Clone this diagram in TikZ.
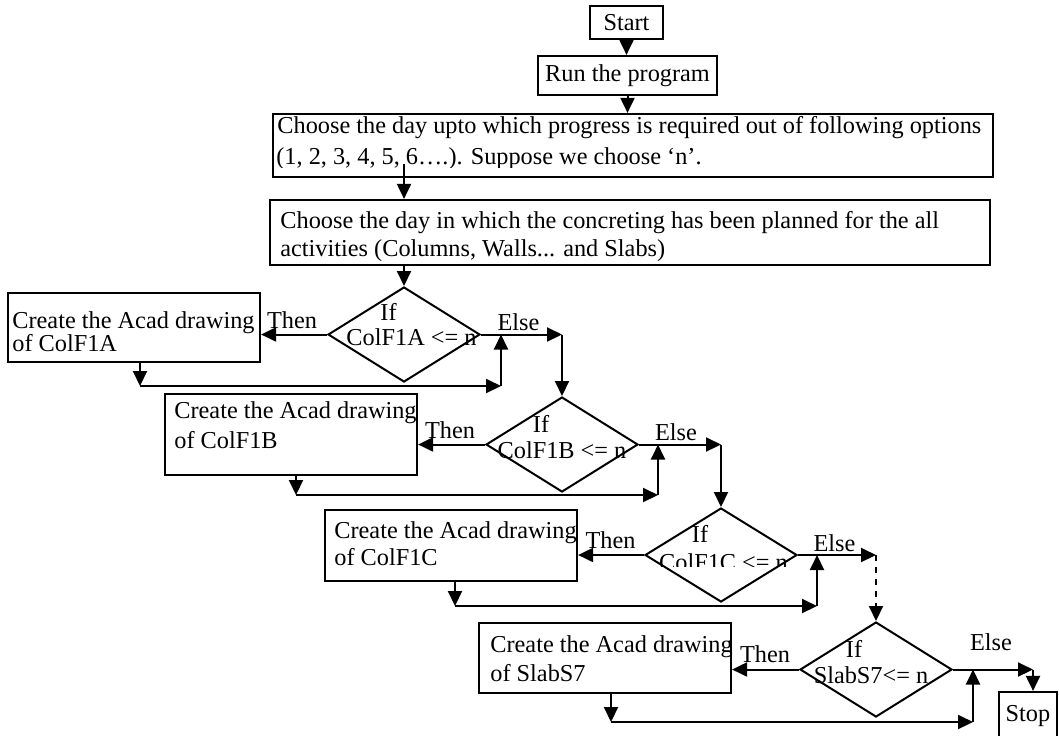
\documentclass[tikz,border=0pt]{standalone}
\usepackage{fontspec}
\setmainfont{Liberation Serif}
\usetikzlibrary{arrows.meta,shapes.geometric,calc}
\begin{document}
\begin{tikzpicture}[x=0.5pt,y=-0.5pt,
  font=\fontsize{12.15}{14}\selectfont,
  every node/.style={inner sep=0pt},
  frame/.style={draw, line width=1.1pt, rectangle, inner sep=0pt},
  dia/.style={draw, line width=1pt, diamond, inner sep=0pt, minimum width=76pt, minimum height=47.5pt},
  arr/.style={line width=1pt, -{Triangle[width=7pt,length=7.5pt]}},
  lbl/.style={anchor=base, inner sep=0pt},
  txt/.style={anchor=base west, inner sep=0pt}]
\useasboundingbox (0,0) rectangle (1059,735);
\fill[white] (0,0) rectangle (1059,735);

% top boxes
\node[frame, minimum width=36.5pt, minimum height=16.5pt] (start) at (626.5,22.5) {Start};
\node[frame, minimum width=89.5pt, minimum height=19.5pt] (run) at (627.5,75.5) {Run the program};
\node[frame, minimum width=360pt, minimum height=31.5pt] (opt) at (633,145.5) {};
\node[txt] (opt1) at (277,133) {Choose the day upto which progress is required out of following options};
\begin{scope}
\clip (270,140) rectangle (995,167);
\node[txt] (opt2) at (276,164) {(1, 2, 3, 4, 5, 6….). Suppose we choose ‘n’.};
\end{scope}
\node[frame, minimum width=360pt, minimum height=32.5pt] (plan) at (630,232.5) {};
\node[txt] (plan1) at (280,228) {Choose the day in which the concreting has been planned for the all};
\node[txt] (plan2) at (280,256) {activities (Columns, Walls... and Slabs)};

% decisions
\node[dia] (d1) at (404,334.5) {};
\node[dia] (d2) at (562,444.5) {};
\node[dia, minimum height=47pt] (d3) at (721,555) {};
\node[dia] (d4) at (876,669.5) {};

% action boxes
\node[frame, minimum width=126pt, minimum height=34.5pt] (b1) at (134,327.5) {};
\node[txt] (b1a) at (12,328) {Create the Acad drawing};
\node[txt] (b1b) at (12,351) {of ColF1A};
\node[frame, minimum width=126pt, minimum height=40.5pt] (b2) at (291,434.5) {};
\node[txt] (b2a) at (174,418) {Create the Acad drawing};
\node[txt] (b2b) at (174,448) {of ColF1B};
\node[frame, minimum width=126pt, minimum height=35.5pt] (b3) at (451,545.5) {};
\node[txt] (b3a) at (334,538) {Create the Acad drawing};
\node[txt] (b3b) at (334,565) {of ColF1C};
\node[frame, minimum width=126pt, minimum height=35pt] (b4) at (605,658) {};
\node[txt] (b4a) at (490,652) {Create the Acad drawing};
\node[txt] (b4b) at (490,681) {of SlabS7};
\node[frame, minimum width=29pt, minimum height=24pt] (stop) at (1028,716) {Stop};

% labels
\node[lbl] (then1) at (292,328) {Then};
\node[lbl] (else1) at (518.5,330) {Else};
\node[lbl] (if1) at (388.5,320) {If};
\node[lbl] (c1) at (411.5,345) {ColF1A <= n};
\node[lbl] (then2) at (450,438) {Then};
\node[lbl] (else2) at (676,440) {Else};
\node[lbl] (if2) at (541,432) {If};
\node[lbl] (c2) at (562,458) {ColF1B <= n};
\node[lbl] (then3) at (610.5,548) {Then};
\node[lbl] (else3) at (834.5,551) {Else};
\node[lbl] (if3) at (700,542) {If};
\begin{scope}
\clip (640,545) rectangle (800,566);
\node[lbl] (c3) at (723.5,570) {ColF1C <= n};
\end{scope}
\node[lbl] (then4) at (765,662) {Then};
\node[lbl] (else4) at (991,650) {Else};
\node[lbl] (if4) at (854,657) {If};
\node[lbl] (c4) at (871,683) {SlabS7<= n};

% main flow
\draw[arr] (start.south) -- (start.south |- run.north);
\draw[arr] (run.south) -- (run.south |- opt.north);
\draw[arr] ($(d1.north |- opt.south)+(0,-14)$) -- (d1.north |- plan.north);
\draw[arr] (d1.north |- plan.south) -- (d1.north);

% decision 1
\coordinate (e1) at (d2.north |- d1.east);
\coordinate (r1) at (140,386);
\coordinate (u1) at (501,386);
\draw[arr] (d1.west) -- (d1.west -| b1.east);
\draw[arr] (d1.east) -- (e1);
\draw[arr] (e1) -- (d2.north);
\draw[arr] (r1 |- b1.south) -- (r1);
\draw[arr] (r1) -- (u1);
\draw[arr] (u1) -- (u1 |- d1.east);

% decision 2
\coordinate (e2) at (d3.north |- d2.east);
\coordinate (r2) at (296,495);
\coordinate (u2) at (658,495);
\draw[arr] (d2.west) -- (d2.west -| b2.east);
\draw[arr] (d2.east) -- (e2);
\draw[arr] (e2) -- (d3.north);
\draw[arr] (r2 |- b2.south) -- (r2);
\draw[arr] (r2) -- (u2);
\draw[arr] (u2) -- (u2 |- d2.east);

% decision 3
\coordinate (e3) at (d4.north |- d3.east);
\coordinate (r3) at (455,606);
\coordinate (u3) at (817,606);
\draw[arr] (d3.west) -- (d3.west -| b3.east);
\draw[arr] (d3.east) -- (e3);
\draw[arr, dash pattern=on 3pt off 3pt] (e3) -- (d4.north);
\draw[arr] (r3 |- b3.south) -- (r3);
\draw[arr] (r3) -- (u3);
\draw[arr] (u3) -- (u3 |- d3.east);

% decision 4
\coordinate (e4) at (1033,669.5);
\coordinate (r4) at (611,722);
\coordinate (u4) at (973,722);
\draw[arr] (d4.west) -- (d4.west -| b4.east);
\draw[arr] (d4.east) -- (e4);
\draw[arr] (e4) -- (e4 |- stop.north);
\draw[arr] (r4 |- b4.south) -- (r4);
\draw[arr] (r4) -- (u4);
\draw[arr] (u4) -- (u4 |- d4.east);
\end{tikzpicture}
\end{document}
